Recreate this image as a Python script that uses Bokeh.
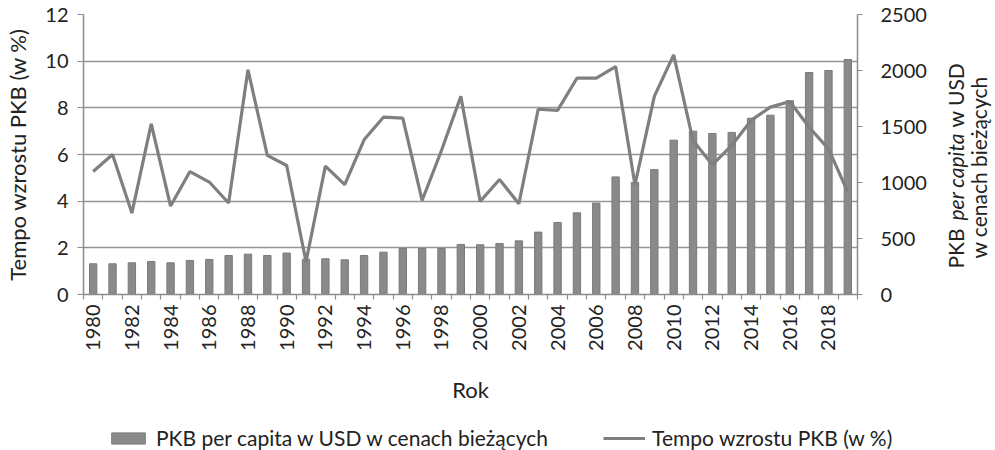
import math
from bokeh.plotting import figure
from bokeh.layouts import row, column
from bokeh.models import (Range1d, LinearAxis, FixedTicker, CustomJSTickFormatter,
                          Legend, LegendItem, ColumnDataSource)
from bokeh.core.properties import value
from bokeh.embed import file_html
from bokeh.resources import INLINE

years = list(range(1980, 2020))
gdp_per_capita = [274, 274, 283, 295, 283, 304, 313, 348, 360, 348,
                  370, 315, 319, 310, 348, 378, 411, 411, 411, 447,
                  444, 455, 479, 557, 643, 729, 816, 1050, 1000, 1115,
                  1378, 1458, 1438, 1447, 1574, 1601, 1730, 1982, 2000, 2098]
growth = [5.27, 6.0, 3.49, 7.31, 3.79, 5.27, 4.82, 3.92, 9.63, 5.96,
          5.53, 1.4, 5.5, 4.71, 6.63, 7.6, 7.56, 4.03, 6.17, 8.49,
          3.99, 4.93, 3.89, 7.94, 7.89, 9.27, 9.27, 9.77, 4.7, 8.49,
          10.27, 6.6, 5.56, 6.39, 7.46, 8.03, 8.27, 7.17, 6.24, 4.39]
left_ticks = [0, 2, 4, 6, 8, 10, 12]
right_ticks = [0, 500, 1000, 1500, 2000, 2500]
bar_label = "PKB per capita w USD w cenach bieżących"
line_label = "Tempo wzrostu PKB (w %)"

FONT = "Lato"
TXT = "#222222"
GRID = "#959595"
AX = "#8c8c8c"
BAR_FILL, BAR_LINE = "#8a8a8a", "#7a7a7a"
LINE_C = "#7f7f7f"
TICK_FS = "20px"
TITLE_FS = "22px"

# geometry (page pixels)
FL, FR, FT, FB = 83, 857, 14, 294
W = 995
H1 = 410           # chart part
H3 = 40            # legend strip
W2 = 58            # strip holding the right-axis title
W1 = W - W2

n = len(years)
xpos = [i + 0.5 for i in range(n)]
src = ColumnDataSource(dict(x=xpos, year=years, gdp=gdp_per_capita, g=growth))

p = figure(width=W1, height=H1, output_backend="svg", toolbar_location=None,
           x_range=Range1d(0, n), y_range=Range1d(left_ticks[0], left_ticks[-1]),
           min_border_left=FL, min_border_right=W1 - FR, min_border_top=FT,
           min_border_bottom=H1 - FB)
p.extra_y_ranges = {"usd": Range1d(right_ticks[0], right_ticks[-1])}
p.outline_line_color = None

bars = p.vbar(x="x", top="gdp", width=0.38, bottom=0, source=src, y_range_name="usd",
              fill_color=BAR_FILL, line_color=BAR_LINE, line_width=1)
line = p.line(x="x", y="g", source=src, line_color=LINE_C, line_width=3.2)

# x axis
xa = p.xaxis[0]
xa.ticker = FixedTicker(ticks=[i + 0.5 for i in range(0, n, 2)],
                        minor_ticks=list(range(0, n + 1)))
xa.formatter = CustomJSTickFormatter(args=dict(years=years),
                                     code="return String(years[Math.floor(tick)]);")
xa.major_label_orientation = math.pi / 2
xa.major_tick_line_color = None
xa.major_tick_out = 0
xa.major_tick_in = 0
xa.minor_tick_in = 0
xa.minor_tick_out = 5
xa.minor_tick_line_color = AX
xa.minor_tick_line_width = 1.2
xa.axis_line_color = AX
xa.axis_line_width = 1.5
xa.major_label_standoff = 5
xa.major_label_text_font = FONT
xa.major_label_text_font_size = TICK_FS
xa.major_label_text_color = TXT
xa.axis_label = "Rok"
xa.axis_label_text_font = FONT
xa.axis_label_text_font_size = TITLE_FS
xa.axis_label_text_font_style = "normal"
xa.axis_label_text_color = TXT
xa.axis_label_standoff = 22

# left y axis
ya = p.yaxis[0]
ya.ticker = FixedTicker(ticks=left_ticks)
ya.axis_line_color = AX
ya.axis_line_width = 1.5
ya.major_tick_line_color = AX
ya.major_tick_out = 6
ya.major_tick_in = 0
ya.minor_tick_line_color = None
ya.major_label_standoff = 9
ya.major_label_text_font = FONT
ya.major_label_text_font_size = TICK_FS
ya.major_label_text_color = TXT
ya.axis_label = line_label
ya.axis_label_text_font = FONT
ya.axis_label_text_font_size = TITLE_FS
ya.axis_label_text_font_style = "normal"
ya.axis_label_text_color = TXT
ya.axis_label_standoff = 11

# right y axis
ra = LinearAxis(y_range_name="usd", ticker=FixedTicker(ticks=right_ticks))
ra.axis_line_color = AX
ra.axis_line_width = 1.5
ra.major_tick_line_color = AX
ra.major_tick_out = 5
ra.major_tick_in = 0
ra.minor_tick_line_color = None
ra.major_label_standoff = 18
ra.major_label_text_font = FONT
ra.major_label_text_font_size = TICK_FS
ra.major_label_text_color = TXT
p.add_layout(ra, "right")

p.xgrid.grid_line_color = None
p.ygrid.ticker = FixedTicker(ticks=left_ticks)
p.ygrid.grid_line_color = GRID
p.ygrid.grid_line_width = 1.5

# side strip for the right-axis title (mixed upright / italic text);
# its frame is aligned with the chart frame, so use the same vertical scale
p2 = figure(width=W2, height=H1, output_backend="svg", toolbar_location=None,
            x_range=Range1d(0, W2), y_range=Range1d(FT, FB),
            min_border_left=0, min_border_right=0, min_border_top=FT,
            min_border_bottom=H1 - FB, x_axis_type=None, y_axis_type=None)
p2.outline_line_color = None
p2.grid.grid_line_color = None

def rlab(text, page_x, page_y, style="normal", align="left"):
    p2.text(x=[page_x - W1], y=[FT + FB - page_y], text=[text], angle=math.pi / 2,
            text_align=align, text_baseline="middle", text_font=value(FONT),
            text_font_size="21px", text_font_style=style, text_color=TXT)

rlab("PKB", 955, 268)
rlab("per capita", 955, 220, "italic")
rlab("w USD", 955, 127)
rlab("w cenach bieżących", 978, 167, align="center")

# legend strip below the chart (swatches styled like the chart's glyphs)
p3 = figure(width=W, height=H3, output_backend="svg", toolbar_location=None,
            x_range=Range1d(0, 1), y_range=Range1d(0, 1),
            min_border=0, x_axis_type=None, y_axis_type=None)
p3.outline_line_color = None
p3.grid.grid_line_color = None
offscreen = ColumnDataSource(dict(x=[-10, -11], y=[-10, -10]))
lg_bar = p3.vbar(x="x", top="y", width=0.1, source=offscreen,
                 fill_color=BAR_FILL, line_color=BAR_LINE, line_width=1)
lg_line = p3.line(x="x", y="y", source=offscreen, line_color=LINE_C, line_width=3.2)
legend = Legend(items=[LegendItem(label=bar_label, renderers=[lg_bar]),
                       LegendItem(label=line_label, renderers=[lg_line])],
                orientation="horizontal", location=(107, 0),
                glyph_width=42, glyph_height=14, label_standoff=7, spacing=55,
                padding=0, margin=0, border_line_color=None, background_fill_alpha=0,
                label_text_font=FONT, label_text_font_size="21px", label_text_color=TXT)
p3.add_layout(legend, "center")

layout = column(row(p, p2, spacing=0), p3, spacing=0)
open("out.html", "w").write(file_html(layout, INLINE))
